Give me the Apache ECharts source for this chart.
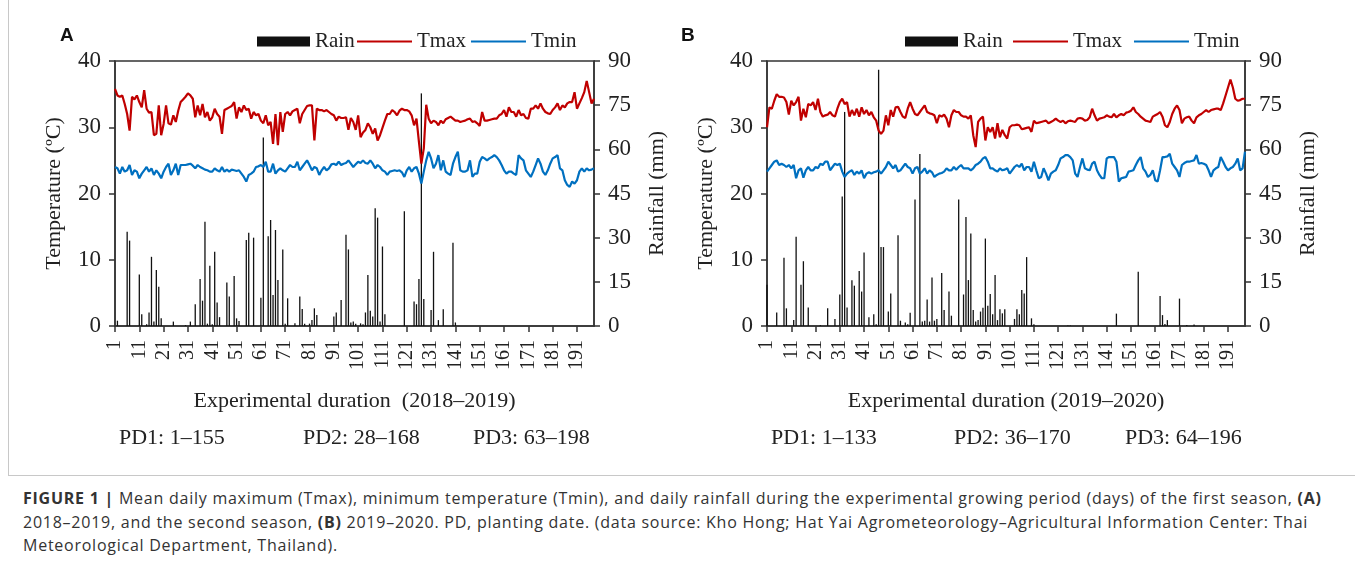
<!DOCTYPE html>
<html lang="en">
<head>
    <meta charset="UTF-8">
    <title>Figure 1</title>
    <script type="text/javascript" src="https://cdn.jsdelivr.net/npm/echarts@6/dist/echarts.min.js"></script>
    <style>
        html, body { margin: 0; padding: 0; background: #fff; }
        #frame { position: absolute; left: 8px; top: 0; width: 1347px; height: 475px;
                 border-left: 1px solid #c8c8c8; border-bottom: 1px solid #c8c8c8; }
        #chart { position: absolute; left: 0; top: 0; width: 1355px; height: 476px; }
        #caption { position: absolute; left: 23px; top: 487px; width: 1325px; white-space: nowrap;
                   font-family: "Open Sans", sans-serif; font-size: 16px; letter-spacing: 0.75px;
                   line-height: 23.5px; color: #333; }
    </style>
</head>
<body>
<div id="frame"></div>
<div id="chart"></div>
<div id="caption">
    <b>FIGURE 1 |</b> Mean daily maximum (Tmax), minimum temperature (Tmin), and daily rainfall during the experimental growing period (days) of the first season, <b>(A)</b><br>
    2018–2019, and the second season, <b>(B)</b> 2019–2020. PD, planting date. (data source: Kho Hong; Hat Yai Agrometeorology–Agricultural Information Center: Thai<br>
    Meteorological Department, Thailand).
</div>
<script type="text/javascript">
    // ---- season A (2018-2019), one value per day, days 1..198
    var tmaxA = [35.8,34.8,34.6,34.8,33.5,32.0,29.5,34.6,34.2,34.8,33.8,33.0,35.6,32.8,32.2,32.3,28.8,29.0,33.3,28.8,
        30.5,33.3,30.6,30.4,31.8,30.8,32.5,33.8,34.2,34.6,35.1,34.8,34.3,31.5,33.3,31.8,33.5,31.5,32.3,31.0,
        31.5,32.8,32.0,31.6,29.0,32.6,32.8,33.0,33.2,33.8,31.3,33.0,32.3,33.3,32.6,32.8,31.3,32.3,31.8,32.0,
        31.0,30.6,31.8,30.3,30.8,27.5,32.0,27.3,32.3,29.3,32.0,32.3,31.8,32.4,32.6,32.8,30.6,32.0,32.6,33.2,
        33.3,33.3,28.0,32.8,32.6,32.6,32.4,32.6,32.3,32.0,31.8,31.0,31.6,31.4,31.4,31.5,29.6,31.4,30.8,29.6,
        31.8,28.5,29.2,29.6,30.6,30.0,29.0,29.8,28.0,28.8,29.9,31.0,32.0,32.0,32.6,32.3,31.8,32.5,32.8,32.6,
        32.6,32.4,31.8,30.3,31.3,27.8,24.5,26.8,33.4,31.3,30.6,31.0,30.8,30.3,31.0,30.6,31.2,31.4,31.6,31.3,
        31.0,31.0,30.8,30.9,31.0,31.2,31.3,30.8,30.9,30.6,30.2,32.3,31.0,31.0,31.1,31.2,31.3,31.3,31.8,32.0,
        32.6,31.6,33.0,32.3,32.3,31.6,32.6,31.8,32.0,31.4,31.3,32.8,32.8,33.3,32.8,33.6,32.8,32.3,32.1,32.0,
        32.6,33.0,33.6,32.6,33.3,33.0,33.6,33.8,33.8,35.3,32.8,33.6,34.4,35.3,37.0,35.3,33.6,34.3];
    var tminA = [24.0,23.8,23.0,24.0,23.3,23.5,24.3,22.8,23.5,23.3,22.3,23.0,23.5,24.0,23.3,23.8,22.8,23.5,23.0,22.3,
        23.3,24.0,24.5,22.8,23.5,24.5,22.8,24.3,24.3,24.3,24.4,24.5,24.2,23.8,24.3,24.0,23.8,23.6,23.5,23.3,
        23.3,23.8,23.5,23.3,24.0,23.3,23.6,23.3,23.6,23.5,23.4,23.5,23.0,22.5,21.8,22.8,23.0,23.3,24.0,24.1,
        24.3,24.0,24.8,23.3,23.3,24.5,23.0,23.5,23.8,23.5,23.3,23.8,24.3,24.0,24.0,24.8,23.5,24.0,24.5,25.0,
        24.3,23.5,24.0,23.8,22.8,23.5,24.0,23.5,23.8,24.4,24.5,24.3,24.8,24.3,24.5,24.6,25.0,24.5,24.0,24.4,
        24.8,24.6,25.0,24.6,24.5,25.0,24.5,23.8,24.3,24.0,23.5,23.3,22.8,23.3,23.4,23.5,23.4,23.5,23.2,22.5,
        23.5,24.0,23.3,23.8,24.0,23.0,21.5,23.3,25.0,26.3,25.3,23.8,24.5,25.8,23.5,25.0,23.3,23.0,22.8,24.5,
        25.5,26.3,23.5,23.3,23.3,23.5,25.0,22.5,23.0,23.0,24.8,25.5,25.3,25.0,25.3,25.5,25.8,25.5,25.0,24.3,
        23.5,23.0,23.3,23.3,23.0,22.8,25.8,25.3,25.0,23.5,23.0,22.5,23.3,24.3,25.3,24.5,23.3,22.8,23.5,24.5,
        25.3,25.5,25.8,23.8,23.5,22.0,21.3,21.0,21.8,21.5,22.0,23.3,23.8,23.3,23.8,23.5,23.6,23.8];
    // rain days only: [day, mm]
    var rainA = [[2,1.8],[6,32],[7,29],[11,17.5],[12,4],[14,0.6],[15,4.6],[16,23.5],[17,1.5],[18,19],[19,13.3],[20,2.6],
        [25,1.5],[30,0.3],[32,1.5],[34,7.4],[36,16],[37,8.6],[38,35.4],[39,0.8],[40,20.5],[41,0.6],[42,25.2],[43,8],[44,3],
        [47,14.8],[48,10],[50,17],[51,2.6],[52,1.7],[55,29.2],[56,31.7],[58,30],[61,9.6],[62,64],[64,30.5],[65,36],[66,10.5],
        [67,32.6],[68,15.6],[70,26],[71,0.8],[72,9.4],[75,0.9],[77,10],[78,5.8],[79,0.8],[81,0.8],[82,2],[83,6],[84,3.7],
        [91,3.2],[92,4.6],[94,8.8],[96,31],[97,26],[98,1.2],[99,1.5],[100,0.8],[102,0.9],[103,0.6],[104,4.6],[105,17.3],
        [106,5.2],[107,3.2],[108,40],[109,36.8],[110,1.5],[111,27],[112,4],[120,39],[124,8.3],[125,7.4],[126,16],[127,79],
        [128,9.2],[131,5.4],[132,25.2],[134,2],[136,5.7],[140,28.3],[141,1.2]];

    // ---- season B (2019-2020)
    var tmaxB = [30.0,33.0,32.8,34.0,35.0,34.6,34.6,34.5,33.8,31.9,34.0,33.3,33.8,34.6,31.0,32.8,31.5,33.5,33.3,33.8,
        32.6,34.3,32.3,31.6,31.8,31.9,32.3,31.8,31.6,32.8,33.8,34.3,33.5,33.8,31.6,32.6,31.8,32.8,31.6,33.0,
        32.0,32.6,31.8,32.3,31.5,31.0,29.5,29.0,29.5,31.8,30.3,32.6,31.6,33.0,33.1,32.3,31.6,31.4,32.8,33.8,
        32.8,32.0,31.8,32.3,32.8,33.3,32.3,32.1,32.0,31.8,30.6,31.8,31.6,31.9,31.3,30.0,31.8,32.6,32.3,32.3,
        31.8,31.6,31.6,31.3,31.8,28.8,27.0,30.8,31.3,31.6,28.0,30.0,29.3,30.0,28.3,30.6,28.5,29.6,28.8,28.3,
        30.0,30.3,30.3,30.4,30.3,29.7,29.8,29.9,30.0,29.3,31.0,30.6,30.7,30.8,30.9,31.0,30.6,30.8,31.0,31.3,
        31.0,30.8,31.0,30.6,30.9,31.0,30.9,30.8,31.3,31.4,31.3,31.0,31.1,31.5,32.8,31.8,31.0,31.3,31.4,31.5,
        31.8,31.6,31.5,32.0,31.5,31.8,32.0,31.8,32.2,32.3,32.5,33.0,32.3,32.0,31.6,31.3,31.0,30.9,30.8,31.6,
        31.8,32.0,32.3,31.6,30.3,30.0,30.8,32.0,32.8,33.3,32.6,30.6,31.3,31.5,31.6,31.0,30.6,31.5,31.8,32.0,
        32.3,32.6,32.3,32.6,32.7,32.8,32.8,32.6,33.6,34.8,36.0,37.2,36.0,34.3,34.0,34.1,34.3,34.3];
    var tminB = [23.3,23.8,24.3,24.8,25.0,24.3,24.5,24.3,24.0,24.3,23.8,24.3,22.3,23.5,23.8,22.4,23.5,24.0,23.5,23.5,
        24.0,23.8,24.5,24.3,24.8,24.8,23.5,24.0,24.5,24.3,24.5,23.3,22.5,23.0,23.3,23.5,22.8,23.3,23.0,23.5,
        22.3,23.0,23.2,23.0,23.2,23.3,23.5,23.0,23.5,24.0,24.8,24.3,23.8,24.3,23.3,23.5,24.0,24.5,24.0,23.8,
        23.0,23.8,24.0,23.0,23.3,23.8,23.0,23.5,23.2,22.5,22.8,23.0,23.1,23.3,23.8,23.5,23.5,24.0,23.6,24.0,
        24.3,23.8,23.8,23.8,23.5,23.8,24.3,24.5,24.8,25.3,25.5,24.8,23.8,23.8,23.5,23.3,23.8,23.5,23.6,23.8,
        23.0,23.5,24.0,24.3,24.0,24.5,23.5,24.0,24.0,23.3,24.8,23.5,22.3,22.5,23.8,23.0,22.0,23.0,23.3,23.5,
        24.3,25.3,25.5,25.8,25.8,25.5,25.0,23.0,22.5,24.0,25.3,23.8,23.6,23.5,24.5,24.8,23.5,22.8,22.3,22.3,
        25.3,25.5,25.5,25.5,24.8,21.8,22.3,22.4,22.5,23.3,23.4,23.5,24.3,25.0,25.5,23.8,23.3,22.5,22.8,23.5,
        22.0,21.8,23.5,25.5,25.5,25.6,26.0,24.5,24.0,23.5,22.5,24.3,24.6,24.8,24.8,24.9,25.0,25.8,24.5,24.6,
        24.5,24.3,23.5,22.5,23.5,23.8,24.0,25.5,24.8,24.0,23.5,23.8,24.0,24.5,25.3,23.5,23.8,26.3];
    var rainB = [[1,14],[5,4.6],[8,23.2],[9,6],[12,2],[13,30.3],[15,14],[16,22],[18,6.3],[23,0.3],[26,6],[29,2.4],
        [31,10.7],[32,44],[33,72.7],[34,6.3],[36,15.5],[37,13.7],[39,18.7],[40,11.7],[41,25],[43,3],[45,4],[46,0.6],
        [47,87],[48,26.8],[49,26.8],[51,4.9],[52,11],[55,30.8],[56,1.8],[58,1.2],[59,0.6],[60,4.5],[62,43],[64,58.4],
        [65,1.5],[66,1.8],[67,9],[68,1.5],[69,16.5],[70,1.8],[71,2.4],[73,18],[74,5.4],[76,11.7],[77,3.5],[80,43],
        [82,10.7],[83,37],[84,15.6],[85,31.4],[86,5.4],[87,1.5],[88,2],[89,4.9],[90,6.2],[91,29.7],[92,6.9],[93,10.9],
        [94,4],[95,17.3],[96,2],[97,5.7],[98,4.3],[99,5.7],[103,2.4],[104,5.7],[105,4],[106,12.2],[107,11],[108,23.4],
        [110,2.6],[111,0.6],[125,0.2],[126,0.2],[145,4.2],[154,18.4],[163,10.2],[164,3.7],[165,0.7],[166,2],[171,9.3],
        [174,0.3],[177,0.5]];

    var pdA = ['PD1: 1–155', 'PD2: 28–168', 'PD3: 63–198'];
    var pdB = ['PD1: 1–133', 'PD2: 36–170', 'PD3: 64–196'];
    var nDays = 198;

    var days = [];
    for (var i = 1; i <= nDays; i++) { days.push(String(i)); }

    function dailyRain(pairs) {
        var out = [];
        for (var i = 0; i < nDays; i++) { out.push(null); }
        pairs.forEach(function (p) { out[p[0] - 1] = p[1]; });
        return out;
    }

    var serif = 'Liberation Serif';
    var axisColor = '#333';

    function xAxis(grid, title) {
        return {
            type: 'category', gridIndex: grid, data: days, boundaryGap: false,
            axisLine: {lineStyle: {color: axisColor, width: 1.5}},
            axisTick: {interval: 9, length: 6, lineStyle: {color: axisColor, width: 1.5}},
            axisLabel: {interval: 9, rotate: 90, margin: 14, fontFamily: serif, fontSize: 20, color: '#222'},
            name: title, nameLocation: 'middle', nameGap: 64,
            nameTextStyle: {fontFamily: serif, fontSize: 22, color: '#222'}
        };
    }
    function yAxes(grid) {
        return [{
            type: 'value', gridIndex: grid, min: 0, max: 40, interval: 10,
            axisLine: {show: true, lineStyle: {color: axisColor, width: 1.5}},
            axisTick: {show: true, length: 6, lineStyle: {color: axisColor, width: 1.5}},
            axisLabel: {margin: 14, fontFamily: serif, fontSize: 23, color: '#222'},
            splitLine: {show: false},
            name: 'Temperature (ºC)', nameLocation: 'middle', nameGap: 50, nameRotate: 90,
            nameTextStyle: {fontFamily: serif, fontSize: 22, color: '#222'}
        }, {
            type: 'value', gridIndex: grid, position: 'right', min: 0, max: 90, interval: 15,
            axisLine: {show: true, lineStyle: {color: axisColor, width: 1.5}},
            axisTick: {show: true, length: 6, lineStyle: {color: axisColor, width: 1.5}},
            axisLabel: {margin: 14, fontFamily: serif, fontSize: 23, color: '#222'},
            splitLine: {show: false},
            name: 'Rainfall (mm)', nameLocation: 'middle', nameGap: 52, nameRotate: 90,
            nameTextStyle: {fontFamily: serif, fontSize: 22, color: '#222'}
        }];
    }
    function series(idx, rain, tmax, tmin) {
        return [{
            name: 'Rain', type: 'bar', xAxisIndex: idx, yAxisIndex: idx * 2 + 1,
            data: dailyRain(rain), barWidth: 1.3, itemStyle: {color: '#111'}
        }, {
            name: 'Tmax', type: 'line', xAxisIndex: idx, yAxisIndex: idx * 2,
            data: tmax, symbol: 'none', lineStyle: {color: '#c00000', width: 2.2}, itemStyle: {color: '#c00000'}
        }, {
            name: 'Tmin', type: 'line', xAxisIndex: idx, yAxisIndex: idx * 2,
            data: tmin, symbol: 'none', lineStyle: {color: '#0070c0', width: 2.2}, itemStyle: {color: '#0070c0'}
        }];
    }
    // rain box and the two line keys need different icon heights, so two legends per panel
    function legends(rainLeft, lineLeft, gap) {
        var text = {fontFamily: serif, fontSize: 21, color: '#222'};
        return [{
            left: rainLeft, top: 26, itemWidth: 53, itemHeight: 10, selectedMode: false,
            textStyle: text, data: [{name: 'Rain', icon: 'rect'}]
        }, {
            left: lineLeft, top: 26, itemWidth: 55, itemHeight: 2.2, itemGap: gap, selectedMode: false,
            textStyle: text, data: [{name: 'Tmax', icon: 'rect'}, {name: 'Tmin', icon: 'rect'}]
        }];
    }
    function pdText(labels, xs) {
        return labels.map(function (t, i) {
            return {type: 'text', left: xs[i], top: 427,
                style: {text: t, fontFamily: serif, fontSize: 22, fill: '#222'}};
        });
    }

    var chart = echarts.init(document.getElementById('chart'));
    var option = {
        animation: false,
        title: [
            {text: 'A', left: 55, top: 21, textStyle: {fontFamily: 'Liberation Sans', fontWeight: 'bold', fontSize: 19, color: '#111'}},
            {text: 'B', left: 676, top: 21, textStyle: {fontFamily: 'Liberation Sans', fontWeight: 'bold', fontSize: 19, color: '#111'}}
        ],
        legend: legends(252, 352, 5).concat(legends(900, 1008, 12)),
        grid: [
            {left: 115, top: 61, width: 479, height: 265, show: true, borderColor: axisColor, borderWidth: 1.5},
            {left: 767, top: 61, width: 478, height: 265, show: true, borderColor: axisColor, borderWidth: 1.5}
        ],
        xAxis: [xAxis(0, 'Experimental duration  (2018–2019)'), xAxis(1, 'Experimental duration (2019–2020)')],
        yAxis: yAxes(0).concat(yAxes(1)),
        series: series(0, rainA, tmaxA, tminA).concat(series(1, rainB, tmaxB, tminB)),
        graphic: pdText(pdA, [119, 303, 473]).concat(pdText(pdB, [771, 954, 1125]))
    };
    chart.setOption(option);
</script>
</body>
</html>
